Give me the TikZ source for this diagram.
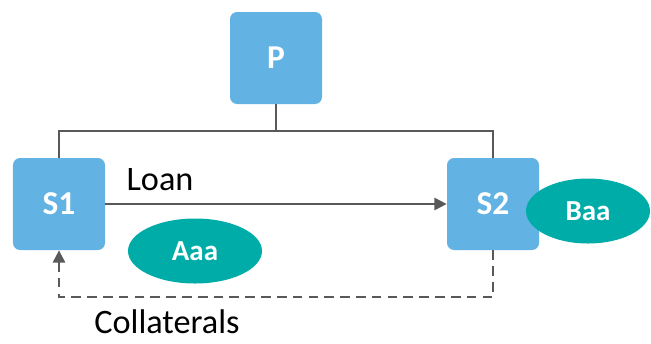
\documentclass[tikz,border=0pt]{standalone}
\usepackage{fontspec}
\setmainfont{Carlito}
\usetikzlibrary{shapes.geometric,arrows.meta,positioning}
\definecolor{entityBlue}{RGB}{98,179,228}
\definecolor{ratingTeal}{RGB}{0,172,168}
\definecolor{lineGray}{RGB}{89,89,89}
\tikzset{
  ebox/.style={fill=entityBlue, rounded corners=4pt, minimum width=1.84cm,
    minimum height=1.84cm, align=center, text=white,
    font=\fontsize{19}{22}\selectfont\bfseries},
  rating/.style={ellipse, fill=ratingTeal, inner sep=0pt, minimum height=1.3cm,
    text=white, font=\fontsize{16.5}{19}\selectfont\bfseries},
  lbl/.style={font=\fontsize{19.5}{22}\selectfont, text=black, inner sep=1pt},
  conn/.style={line width=1.1pt, color=lineGray},
  arr/.style={-{Triangle[length=7pt,width=7pt]}, line width=1.1pt, color=lineGray},
  darr/.style={-{Triangle[length=7pt,width=7pt]}, line width=1.1pt, color=lineGray,
    dash pattern=on 5.5pt off 3.5pt},
}
\begin{document}
\begin{tikzpicture}
\useasboundingbox (0,0) rectangle (13.02,-6.86);

%% ENTITIES
\node[ebox] (P) at (5.52,-1.16) {P};
\node[ebox] (S1) at (1.18,-4.08) {S1};
\node[ebox] (S2) at (9.86,-4.08) {S2};

%% RATINGS
\node[rating, minimum width=2.68cm] (aaa) at (3.9,-5.02) {Aaa};
\node[rating, minimum width=2.48cm] (baa) at (11.76,-4.22) {Baa};

%% LABELS
\node[lbl] (loan) at (3.2,-3.6) {Loan};
\node[lbl] (coll) at (3.34,-6.44) {Collaterals};

%% CONNECTORS
\coordinate (split) at (5.52,-2.62);
\coordinate (back) at (9.86,-5.94);
\draw[conn] (P.south) -- (split);
\draw[conn] (S1.north) |- (split) -| (S2.north);
\draw[arr] (S1.east) -- (S2.west);
\draw[darr] (S2.south) -- (back) -| (S1.south);

\end{tikzpicture}
\end{document}
